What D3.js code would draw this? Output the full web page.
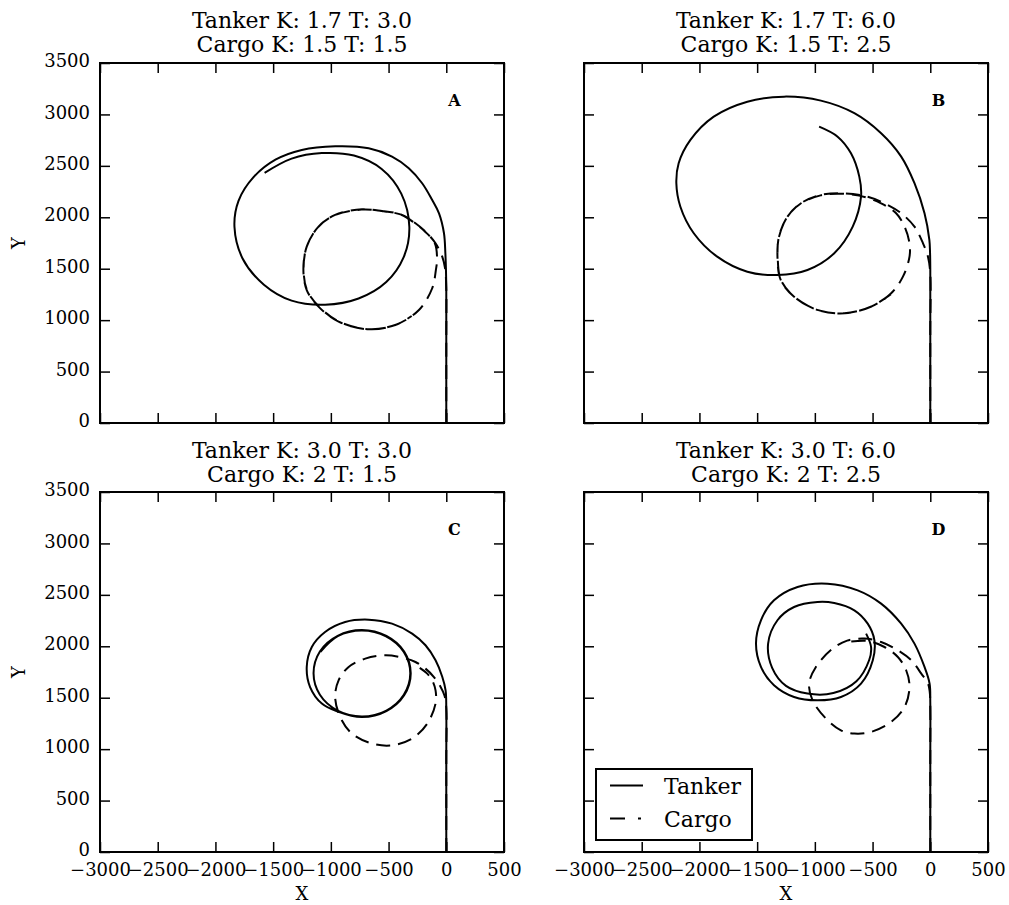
<!DOCTYPE html>
<html>
<head>
<meta charset="utf-8">
<script src="https://cdn.jsdelivr.net/npm/d3@7"></script>
<style>
  html, body { margin: 0; padding: 0; background: #fff; }
  svg { display: block; }
  text { font-family: "DejaVu Serif", serif; fill: #000; }
</style>
</head>
<body>
<svg id="chart" width="1009" height="905"></svg>
<script>
// Turning-circle trajectories, [x, y] in metres
const tankerA = [[0,0],[0,800],[0,1300],[-3,1500],[-8,1650],[-20,1845],[-63,2039],[-122,2168],[-209,2331],[-325,2477],[-470,2590],[-672,2671],[-962,2690],[-1252,2655],[-1480,2560],[-1670,2390],[-1800,2160],[-1835,1905],[-1765,1600],[-1580,1345],[-1340,1190],[-1050,1150],[-760,1210],[-520,1370],[-370,1610],[-320,1905],[-390,2230],[-560,2470],[-800,2600],[-1078,2624],[-1340,2570],[-1574,2431]];
const cargoA = [[0,0],[0,800],[0,1300],[-10,1500],[-35,1617],[-93,1747],[-180,1860],[-267,1942],[-383,2023],[-557,2060],[-730,2078],[-963,2023],[-1107,1909],[-1209,1714],[-1238,1488],[-1209,1293],[-1107,1131],[-933,985],[-672,911],[-441,953],[-237,1099],[-122,1310],[-90,1488],[-80,1600],[-100,1750],[-185,1862],[-275,1945],[-390,2025],[-560,2062],[-735,2075],[-965,2020],[-1110,1905],[-1210,1710],[-1236,1490],[-1206,1290],[-1100,1128],[-925,983],[-665,912],[-430,958],[-300,1040]];

const tankerB = [[0,0],[0,900],[0,1500],[-2,1653],[-8,1780],[-50,2039],[-137,2331],[-252,2590],[-426,2817],[-658,3012],[-948,3134],[-1267,3173],[-1585,3124],[-1876,2978],[-2078,2752],[-2180,2525],[-2200,2331],[-2165,2103],[-2049,1845],[-1846,1617],[-1585,1471],[-1324,1439],[-1064,1488],[-832,1650],[-672,1909],[-600,2200],[-615,2395],[-687,2622],[-803,2784],[-963,2881]];
const cargoB = [[0,0],[0,900],[0,1450],[-20,1617],[-63,1747],[-137,1909],[-252,2039],[-368,2120],[-542,2200],[-745,2233],[-948,2217],[-1122,2136],[-1237,2006],[-1310,1812],[-1324,1617],[-1296,1391],[-1180,1228],[-977,1099],[-745,1067],[-513,1131],[-339,1261],[-237,1423],[-180,1617],[-180,1747],[-223,1909],[-296,2039],[-426,2136],[-560,2195],[-750,2228],[-950,2213],[-1125,2132],[-1240,2003],[-1312,1808],[-1322,1614],[-1293,1388],[-1175,1224],[-970,1097],[-740,1066],[-510,1133],[-330,1262]];

const tankerC = [[0,0],[0,900],[0,1400],[-6,1572],[-35,1704],[-93,1864],[-180,2010],[-296,2123],[-470,2220],[-672,2259],[-876,2236],[-1050,2139],[-1165,1993],[-1209,1799],[-1180,1604],[-1078,1443],[-941,1365],[-730,1312],[-519,1370],[-365,1524],[-308,1737],[-365,1948],[-519,2100],[-730,2158],[-941,2102],[-1095,1950],[-1150,1737],[-1095,1528],[-941,1374],[-730,1318],[-519,1375],[-368,1528],[-312,1737],[-368,1945],[-522,2097],[-732,2153],[-940,2098],[-1090,1946]];
const cargoC = [[0,0],[0,900],[0,1400],[-15,1520],[-49,1604],[-107,1701],[-180,1783],[-267,1847],[-383,1890],[-528,1912],[-702,1880],[-846,1799],[-933,1669],[-963,1507],[-919,1312],[-817,1151],[-643,1054],[-470,1037],[-296,1102],[-165,1248],[-93,1443],[-93,1572],[-122,1669],[-165,1734],[-230,1790]];

const tankerD = [[0,0],[0,900],[0,1450],[-6,1637],[-50,1799],[-137,2026],[-252,2220],[-426,2415],[-629,2544],[-890,2609],[-1150,2577],[-1354,2447],[-1467,2253],[-1510,2026],[-1467,1799],[-1354,1621],[-1180,1507],[-977,1475],[-774,1507],[-600,1637],[-498,1864],[-484,2058],[-542,2220],[-658,2350],[-832,2421],[-977,2431],[-1180,2382],[-1324,2253],[-1405,2026],[-1370,1790],[-1250,1615],[-1064,1540],[-840,1545],[-640,1660],[-530,1864],[-513,1993],[-556,2123]];
const cargoD = [[0,0],[0,900],[0,1400],[-5,1560],[-20,1637],[-78,1734],[-165,1864],[-281,1961],[-426,2042],[-571,2075],[-720,2055],[-846,1977],[-991,1799],[-1050,1637],[-1020,1475],[-904,1297],[-774,1183],[-658,1151],[-513,1167],[-339,1264],[-223,1410],[-180,1604],[-209,1767],[-281,1896],[-397,1993],[-542,2051],[-716,2042]];

// Panel titles and letters
const panelLetters = ["A", "B", "C", "D"];
const tankerTitles = ["Tanker K: 1.7 T: 3.0", "Tanker K: 1.7 T: 6.0", "Tanker K: 3.0 T: 3.0", "Tanker K: 3.0 T: 6.0"];
const cargoTitles = ["Cargo K: 1.5 T: 1.5", "Cargo K: 1.5 T: 2.5", "Cargo K: 2 T: 1.5", "Cargo K: 2 T: 2.5"];
const tankerSeries = [tankerA, tankerB, tankerC, tankerD];
const cargoSeries = [cargoA, cargoB, cargoC, cargoD];

// Axis ticks
const xTicks = [-3000, -2500, -2000, -1500, -1000, -500, 0, 500];
const yTicks = [0, 500, 1000, 1500, 2000, 2500, 3000, 3500];
const xDomain = [-3000, 500];
const yDomain = [0, 3500];
const legendLabels = ["Tanker", "Cargo"];

const svg = d3.select("#chart");
const W = 404, H = 360;
const panelOrigins = [[100, 63], [584, 63], [100, 492], [584, 492]];
const titleOffsets = [[-35, -11.5], [-34, -10]];
const DASH = "14,8";

const x = d3.scaleLinear().domain(xDomain).range([0, W]);
const y = d3.scaleLinear().domain(yDomain).range([H, 0]);
const line = d3.line().x(d => x(d[0])).y(d => y(d[1])).curve(d3.curveCatmullRom.alpha(0.5));
const fmt = d3.format("d");

panelOrigins.forEach((o, i) => {
  const g = svg.append("g").attr("transform", `translate(${o[0]},${o[1]})`);
  const col = i % 2, row = Math.floor(i / 2);

  // clip curves to the plotting area
  const clipId = "clip" + i;
  g.append("clipPath").attr("id", clipId).append("rect").attr("width", W).attr("height", H);

  const plot = g.append("g").attr("clip-path", `url(#${clipId})`);
  plot.append("path").datum(cargoSeries[i]).attr("d", line)
    .attr("fill", "none").attr("stroke", "#000").attr("stroke-width", 2)
    .attr("stroke-dasharray", DASH);
  plot.append("path").datum(tankerSeries[i]).attr("d", line)
    .attr("fill", "none").attr("stroke", "#000").attr("stroke-width", 2);

  // inward ticks on all four sides
  const bottom = d3.axisBottom(x).tickValues(xTicks).tickSize(-10).tickSizeOuter(0).tickPadding(11)
    .tickFormat(row === 1 ? fmt : () => "");
  const top = d3.axisTop(x).tickValues(xTicks).tickSize(-10).tickSizeOuter(0).tickFormat(() => "");
  const left = d3.axisLeft(y).tickValues(yTicks).tickSize(-10).tickSizeOuter(0).tickPadding(10)
    .tickFormat(col === 0 ? fmt : () => "");
  const right = d3.axisRight(y).tickValues(yTicks).tickSize(-10).tickSizeOuter(0).tickFormat(() => "");

  const axes = [
    g.append("g").attr("transform", `translate(0,${H})`).call(bottom),
    g.append("g").call(top),
    g.append("g").call(left),
    g.append("g").attr("transform", `translate(${W},0)`).call(right)
  ];
  axes.forEach(a => {
    a.select(".domain").remove();
    a.selectAll(".tick line").attr("stroke", "#000").attr("stroke-width", 1.5);
    a.selectAll(".tick text").attr("font-family", "DejaVu Serif").attr("font-size", 18).attr("fill", "#000");
  });
  axes[2].selectAll(".tick text").attr("dy", "0.2em");

  // frame
  g.append("rect").attr("width", W).attr("height", H)
    .attr("fill", "none").attr("stroke", "#000").attr("stroke-width", 2);

  // titles
  g.append("text").attr("x", W / 2).attr("y", titleOffsets[row][0]).attr("text-anchor", "middle")
    .attr("font-size", 22).text(tankerTitles[i]);
  g.append("text").attr("x", W / 2).attr("y", titleOffsets[row][1]).attr("text-anchor", "middle")
    .attr("font-size", 22).text(cargoTitles[i]);

  // panel letter
  g.append("text").attr("x", x(71)).attr("y", y(3082)).attr("text-anchor", "middle")
    .attr("font-size", 16).attr("font-weight", "bold").text(panelLetters[i]);

  if (col === 0) {
    g.append("text").attr("transform", `translate(${25 - o[0]},${H / 2}) rotate(-90)`)
      .attr("text-anchor", "middle").attr("font-size", 18).text("Y");
  }
  if (row === 1) {
    g.append("text").attr("x", W / 2).attr("y", 900 - o[1]).attr("text-anchor", "middle")
      .attr("font-size", 18).text("X");
  }

  // legend in the last panel
  if (i === 3) {
    const lg = g.append("g").attr("transform", `translate(12,${H - 83})`);
    lg.append("rect").attr("width", 156).attr("height", 71)
      .attr("fill", "#fff").attr("stroke", "#000").attr("stroke-width", 2);
    legendLabels.forEach((lab, k) => {
      const yy = 16.5 + k * 33;
      lg.append("line").attr("x1", 14).attr("x2", k === 1 ? 45 : 47).attr("y1", yy).attr("y2", yy)
        .attr("stroke", "#000").attr("stroke-width", 2)
        .attr("stroke-dasharray", k === 1 ? "15,13" : null);
      lg.append("text").attr("x", 68).attr("y", yy + 8).attr("font-size", 22).text(lab);
    });
  }
});
</script>
</body>
</html>
